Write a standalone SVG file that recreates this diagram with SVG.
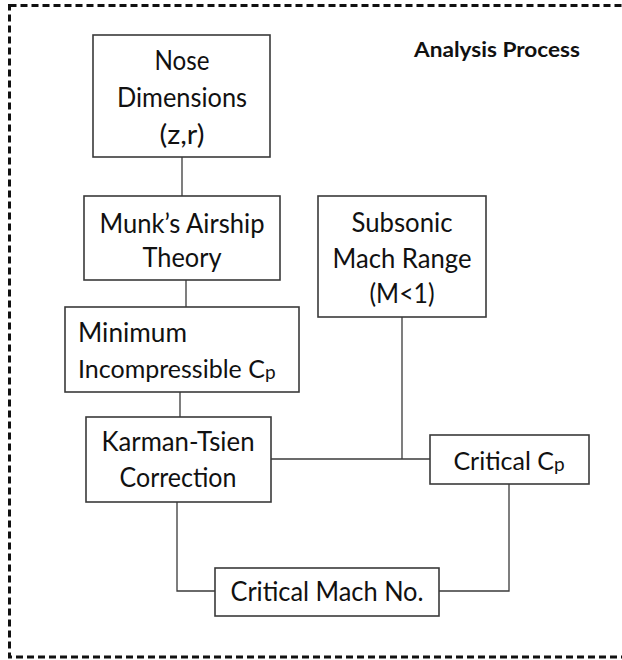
<svg xmlns="http://www.w3.org/2000/svg" width="622" height="660" viewBox="0 0 622 660">
  <style>
    .frame { fill: none; stroke: #111; stroke-width: 3; stroke-dasharray: 7 4; }
    .box { fill: #fff; stroke: #3a3a3a; stroke-width: 1.6; }
    .link { fill: none; stroke: #3a3a3a; stroke-width: 1.3; }
    .lbl { font-family: Lato, "Liberation Sans", sans-serif; font-size: 27px; fill: #111; text-anchor: middle; }
    .left { text-anchor: start; }
    .sub { font-size: 19px; }
    .title { font-family: Lato, "Liberation Sans", sans-serif; font-size: 20px; font-weight: bold; fill: #111; }
  </style>

  <!-- dashed outer frame (right side runs off the canvas) -->
  <rect class="frame" x="9.5" y="5.5" width="616" height="651.5"/>

  <text class="title" x="414" y="57" textLength="166" lengthAdjust="spacingAndGlyphs">Analysis Process</text>

  <g id="connectors">
    <line class="link" x1="182" y1="157" x2="182" y2="196"/>
    <line class="link" x1="186" y1="280" x2="186" y2="307"/>
    <line class="link" x1="180" y1="392" x2="180" y2="417"/>
    <line class="link" x1="402" y1="317" x2="402" y2="459"/>
    <line class="link" x1="271" y1="459" x2="430" y2="459"/>
    <polyline class="link" points="177,502 177,591 215,591"/>
    <polyline class="link" points="509,484 509,591 439,591"/>
  </g>

  <g id="nose-dimensions">
    <rect class="box" x="93" y="35" width="177" height="122"/>
    <text class="lbl" x="182" y="70" textLength="55" lengthAdjust="spacingAndGlyphs">Nose</text>
    <text class="lbl" x="182" y="107" textLength="130" lengthAdjust="spacingAndGlyphs">Dimensions</text>
    <text class="lbl" x="182" y="144" textLength="45" lengthAdjust="spacingAndGlyphs">(z,r)</text>
  </g>

  <g id="munk-theory">
    <rect class="box" x="84" y="196" width="196" height="84"/>
    <text class="lbl" x="182" y="233" textLength="165" lengthAdjust="spacingAndGlyphs">Munk’s Airship</text>
    <text class="lbl" x="182" y="267" textLength="79" lengthAdjust="spacingAndGlyphs">Theory</text>
  </g>

  <g id="min-incompressible-cp">
    <rect class="box" x="65" y="307" width="234" height="85"/>
    <text class="lbl left" x="78" y="342" textLength="109" lengthAdjust="spacingAndGlyphs">Minimum</text>
    <text class="lbl left" x="78" y="378" style="font-size:25px">Incompressible C<tspan class="sub" dy="1">p</tspan></text>
  </g>

  <g id="karman-tsien">
    <rect class="box" x="86" y="417" width="185" height="85"/>
    <text class="lbl" x="178" y="451" textLength="153" lengthAdjust="spacingAndGlyphs">Karman-Tsien</text>
    <text class="lbl" x="178" y="487" textLength="117" lengthAdjust="spacingAndGlyphs">Correction</text>
  </g>

  <g id="subsonic-range">
    <rect class="box" x="318" y="196" width="168" height="121"/>
    <text class="lbl" x="402" y="232" textLength="101" lengthAdjust="spacingAndGlyphs">Subsonic</text>
    <text class="lbl" x="402" y="268" textLength="139" lengthAdjust="spacingAndGlyphs">Mach Range</text>
    <text class="lbl" x="402" y="303" textLength="65" lengthAdjust="spacingAndGlyphs">(M&lt;1)</text>
  </g>

  <g id="critical-cp">
    <rect class="box" x="430" y="435" width="159" height="49"/>
    <text class="lbl" x="509" y="470" style="font-size:25px">Critical C<tspan class="sub" dy="1">p</tspan></text>
  </g>

  <g id="critical-mach">
    <rect class="box" x="215" y="568" width="224" height="48"/>
    <text class="lbl" x="327" y="601" textLength="193" lengthAdjust="spacingAndGlyphs">Critical Mach No.</text>
  </g>
</svg>
